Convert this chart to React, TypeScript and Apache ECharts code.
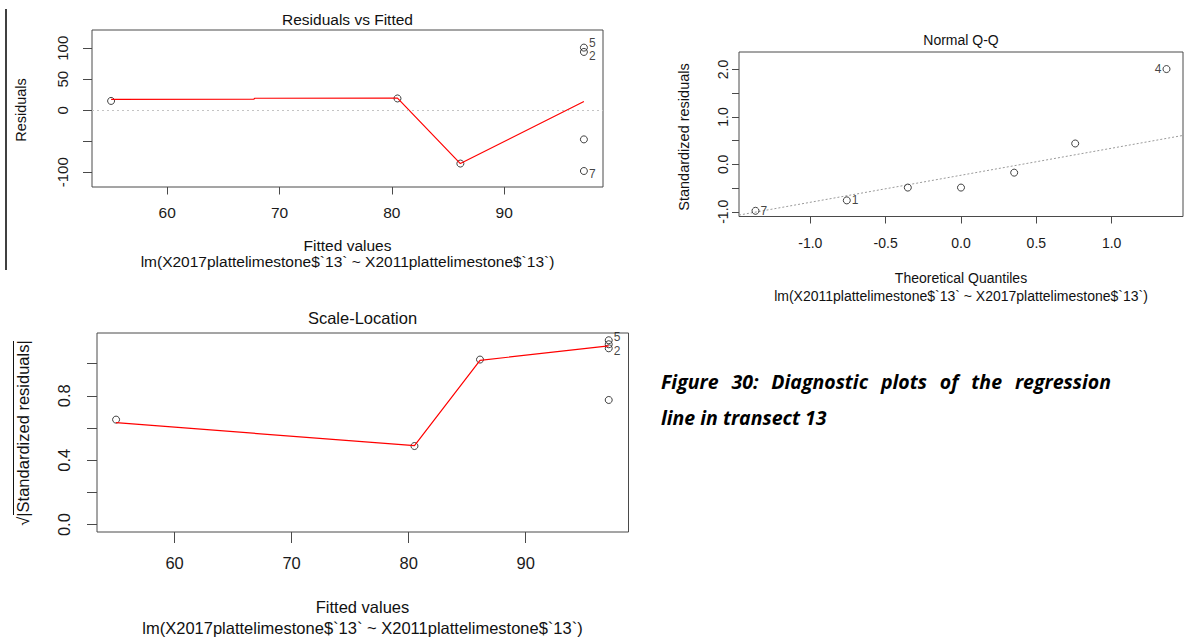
import React, { useEffect, useRef } from "react";
import * as echarts from "echarts";

// ---------- Residuals vs Fitted ----------
const rvfTicksX = [60, 70, 80, 90];
const rvfTicksY = [-100, -50, 0, 50, 100];
const rvfLabelsY = [-100, 0, 50, 100];
const rvfFitted = [55.0, 80.5, 86.1, 97.1, 97.1, 97.1, 97.1];
const rvfResid = [15, 19, -86, 101, 94, -47, -98];
const rvfIds = ["", "", "", "5", "2", "", "7"];
const rvfSmoothX = [55.0, 67.7, 67.8, 80.5, 86.1, 97.1];
const rvfSmoothY = [17.5, 17.8, 19.3, 19.5, -86, 14];

// ---------- Normal Q-Q ----------
const qqTicksX = [-1, -0.5, 0, 0.5, 1];
const qqTicksY = [-1, -0.5, 0, 0.5, 1, 1.5, 2];
const qqLabelsY = [-1, 0, 1, 2];
const qqTheoretical = [-1.364, -0.758, -0.353, 0, 0.353, 0.758, 1.364];
const qqStdResid = [-0.98, -0.76, -0.49, -0.49, -0.175, 0.44, 2.01];
const qqIds = ["7", "1", "", "", "", "", "4"];
const qqRefLineX = [-1.4736, 1.4736];
const qqRefLineY = [-1.07, 0.61];

// ---------- Scale-Location ----------
const slTicksX = [60, 70, 80, 90];
const slTicksY = [0, 0.2, 0.4, 0.6, 0.8, 1.0];
const slLabelsY = [0, 0.4, 0.8];
const slFitted = [55.0, 80.5, 86.1, 97.1, 97.1, 97.1, 97.1];
const slSqrtStd = [0.652, 0.488, 1.025, 1.145, 1.095, 0.774, 1.12];
const slIds = ["", "", "", "5", "2", "", ""];
const slSmoothX = [55.0, 80.5, 86.1, 97.1];
const slSmoothY = [0.633, 0.49, 1.02, 1.11];

// ---------- Texts ----------
const titles = ["Residuals vs Fitted", "Normal Q-Q", "Scale-Location"];
const xNames = ["Fitted values", "Theoretical Quantiles", "Fitted values"];
const yNames = ["Residuals", "Standardized residuals", "\u221A|Standardized residuals|"];
const subCaptions = [
  "lm(X2017plattelimestone$`13` ~ X2011plattelimestone$`13`)",
  "lm(X2011plattelimestone$`13` ~ X2017plattelimestone$`13`)",
  "lm(X2017plattelimestone$`13` ~ X2011plattelimestone$`13`)",
];
const captionLine1 = ["Figure", "30:", "Diagnostic", "plots", "of", "the", "regression"];
const captionLine2 = "line in transect 13";

const FONT = '"Liberation Sans", Arial, sans-serif';
const CAP_FONT_FAMILY = '"Open Sans", sans-serif';
const BOX = "#4a4a4a";
const TXT = "#1a1a1a";

function pts(xs: number[], ys: number[], ids?: string[], offsets?: any) {
  return xs.map((x, i) => {
    const id = ids ? ids[i] : "";
    const item: any = { value: [x, ys[i]], name: id };
    if (id) {
      item.label = {
        show: true,
        formatter: id,
        position: offsets && offsets[id] ? offsets[id].pos : "right",
        distance: 1,
        offset: offsets && offsets[id] ? offsets[id].off : [0, 0],
      };
    }
    return item;
  });
}

function axisX(grid: number, min: number, max: number, ticks: number[], labels: number[], tickLen: number, margin: number, fs: number, fmt?: (v: number) => string) {
  return {
    gridIndex: grid,
    type: "value",
    min,
    max,
    axisLine: { show: false, onZero: false },
    splitLine: { show: false },
    axisTick: { show: true, length: tickLen, customValues: ticks, lineStyle: { color: BOX, width: 1 } },
    axisLabel: {
      show: true,
      customValues: labels,
      margin,
      fontSize: fs,
      fontFamily: FONT,
      color: TXT,
      formatter: fmt ? (v: number) => fmt(v) : undefined,
    },
  };
}

function axisY(grid: number, min: number, max: number, ticks: number[], labels: number[], tickLen: number, margin: number, fs: number, fmt?: (v: number) => string) {
  const a: any = axisX(grid, min, max, ticks, labels, tickLen, margin, fs, fmt);
  a.axisLabel.rotate = 90;
  return a;
}

export default function App() {
  const ref = useRef<HTMLDivElement>(null);
  useEffect(() => {
    if (!ref.current) return;
    const chart = echarts.init(ref.current, null, { renderer: "svg" });

    // caption justified layout
    const capSize = 19.5;
    const capFont = `italic bold ${capSize}px ${CAP_FONT_FAMILY}`;
    const ctx = document.createElement("canvas").getContext("2d");
    let widths = captionLine1.map((w) => w.length * 10);
    if (ctx) {
      ctx.font = capFont;
      widths = captionLine1.map((w) => ctx.measureText(w).width);
    }
    const capLeft = 661;
    const capRight = 1111;
    const total = widths.reduce((s, w) => s + w, 0);
    const gap = Math.max(5, (capRight - capLeft - total) / (captionLine1.length - 1));
    let cx = capLeft;
    const capStyle = {
      fontSize: capSize,
      fontFamily: CAP_FONT_FAMILY,
      fontStyle: "italic",
      fontWeight: "bold",
      fill: "#000",
      align: "left",
      verticalAlign: "middle",
    };
    const capEls: any[] = captionLine1.map((w, i) => {
      const el = { type: "text", x: cx, y: 381, style: { ...capStyle, text: w } };
      cx += widths[i] + gap;
      return el;
    });
    capEls.push({ type: "text", x: capLeft, y: 417, style: { ...capStyle, text: captionLine2 } });

    const txt = (text: string, x: number, y: number, fs: number, rot = 0) => ({
      type: "text",
      x,
      y,
      rotation: rot,
      style: { text, fontSize: fs, fontFamily: FONT, fill: "#111", align: "center", verticalAlign: "middle" },
    });

    const f1 = (v: number) => v.toFixed(1);
    const pointStyle = { color: "rgba(0,0,0,0)", borderColor: "#111", borderWidth: 1 };
    const labelBase = { color: "#111", fontSize: 12, fontFamily: FONT };
    const rvfOffsets = {
      "5": { pos: "right", off: [0, -5] },
      "2": { pos: "right", off: [0, 4] },
      "7": { pos: "right", off: [0, 3] },
    };
    const slOffsets = { "5": { pos: "right", off: [0, -3] }, "2": { pos: "right", off: [0, 3] } };

    const option: any = {
      animation: false,
      backgroundColor: "#fff",
      grid: [
        { left: 92, top: 30, width: 511, height: 157, show: true, borderColor: BOX, borderWidth: 1, backgroundColor: "transparent" },
        { left: 739, top: 52, width: 444, height: 164.5, show: true, borderColor: BOX, borderWidth: 1, backgroundColor: "transparent" },
        { left: 97, top: 333, width: 531.5, height: 199, show: true, borderColor: BOX, borderWidth: 1, backgroundColor: "transparent" },
      ],
      xAxis: [
        axisX(0, 53.3, 98.8, rvfTicksX, rvfTicksX, 7.5, 17, 15.5),
        axisX(1, -1.4736, 1.4736, qqTicksX, qqTicksX, 7, 19, 14, f1),
        axisX(2, 53.37, 98.79, slTicksX, slTicksX, 11, 22, 16.5),
      ],
      yAxis: [
        axisY(0, -123.8, 129.4, rvfTicksY, rvfLabelsY, 9, 22, 15),
        axisY(1, -1.1, 2.37, qqTicksY, qqLabelsY, 7, 9, 14, f1),
        axisY(2, -0.046, 1.19, slTicksY, slLabelsY, 10, 25, 16.5, f1),
      ],
      series: [
        {
          type: "scatter",
          xAxisIndex: 0,
          yAxisIndex: 0,
          symbol: "circle",
          symbolSize: 7,
          itemStyle: pointStyle,
          label: labelBase,
          data: pts(rvfFitted, rvfResid, rvfIds, rvfOffsets),
          markLine: {
            silent: true,
            symbol: ["none", "none"],
            label: { show: false },
            lineStyle: { type: [2, 3], color: "#c4c4c4", width: 1 },
            data: [{ yAxis: 0 }],
          },
          z: 2,
        },
        {
          type: "line",
          xAxisIndex: 0,
          yAxisIndex: 0,
          showSymbol: false,
          symbol: "none",
          lineStyle: { color: "#ff0000", width: 1.2 },
          data: rvfSmoothX.map((x, i) => [x, rvfSmoothY[i]]),
          z: 3,
        },
        {
          type: "line",
          xAxisIndex: 1,
          yAxisIndex: 1,
          showSymbol: false,
          symbol: "none",
          lineStyle: { color: "#9a9a9a", width: 1, type: [2, 2] },
          data: qqRefLineX.map((x, i) => [x, qqRefLineY[i]]),
          z: 1,
        },
        {
          type: "scatter",
          xAxisIndex: 1,
          yAxisIndex: 1,
          symbol: "circle",
          symbolSize: 7,
          itemStyle: pointStyle,
          label: labelBase,
          data: pts(qqTheoretical, qqStdResid, qqIds, { "4": { pos: "left", off: [0, 0] } }),
          z: 2,
        },
        {
          type: "scatter",
          xAxisIndex: 2,
          yAxisIndex: 2,
          symbol: "circle",
          symbolSize: 7,
          itemStyle: pointStyle,
          label: labelBase,
          data: pts(slFitted, slSqrtStd, slIds, slOffsets),
          z: 2,
        },
        {
          type: "line",
          xAxisIndex: 2,
          yAxisIndex: 2,
          showSymbol: false,
          symbol: "none",
          lineStyle: { color: "#ff0000", width: 1.2 },
          data: slSmoothX.map((x, i) => [x, slSmoothY[i]]),
          z: 3,
        },
      ],
      graphic: [
        { type: "line", shape: { x1: 6, y1: 9, x2: 6, y2: 270 }, style: { stroke: "#000", lineWidth: 1.5 } },
        txt(titles[0], 347.5, 19, 15.5),
        txt(xNames[0], 347.5, 245, 15.5),
        txt(subCaptions[0], 347.5, 261.5, 15.5),
        txt(yNames[0], 21, 110, 14.5, Math.PI / 2),
        txt(titles[1], 961, 40, 14),
        txt(xNames[1], 961, 277.5, 14),
        txt(subCaptions[1], 961, 296, 14),
        txt(yNames[1], 684, 137, 14.5, Math.PI / 2),
        txt(titles[2], 362.5, 318, 16.5),
        txt(xNames[2], 362.5, 606.5, 16.5),
        txt(subCaptions[2], 362.5, 628, 16.5),
        txt(yNames[2], 23, 433, 16.5, Math.PI / 2),
        { type: "line", shape: { x1: 13.5, y1: 341, x2: 13.5, y2: 515 }, style: { stroke: "#111", lineWidth: 1 } },
        ...capEls,
      ],
    };
    chart.setOption(option);
    return () => chart.dispose();
  }, []);
  return (
    <div
      ref={ref}
      style={{ position: "absolute", left: 0, top: 0, width: 1187, height: 639, background: "#fff" }}
    />
  );
}
